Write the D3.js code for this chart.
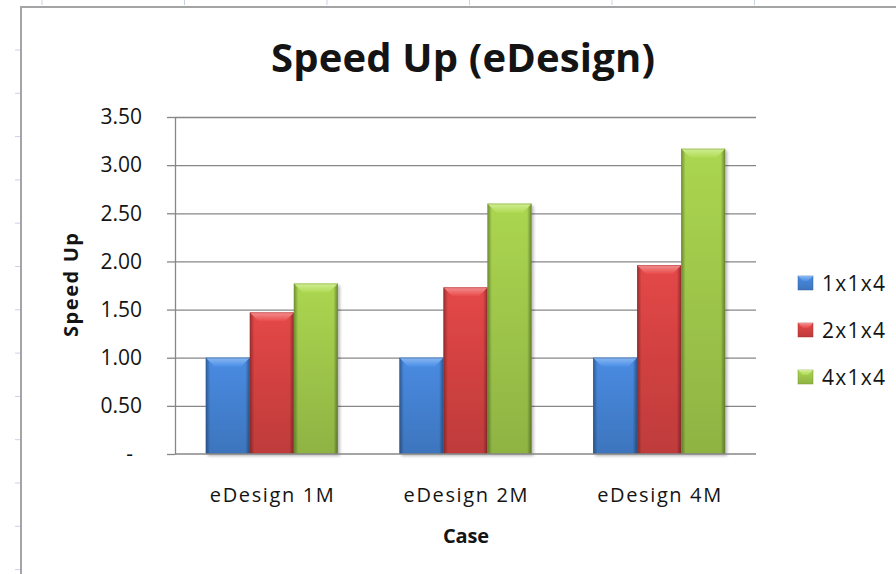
<!DOCTYPE html>
<html>
<head>
<meta charset="utf-8">
<script src="https://cdn.jsdelivr.net/npm/d3@7"></script>
<style>
  html, body { margin: 0; padding: 0; background: #ffffff; }
  svg { display: block; }
  text { font-family: "Open Sans", "DejaVu Sans", sans-serif; fill: #141414; }
</style>
</head>
<body>
<svg id="chart" width="896" height="574"></svg>
<script>
// ---- data ----
const categories = ["eDesign 1M", "eDesign 2M", "eDesign 4M"];
const seriesNames = ["1x1x4", "2x1x4", "4x1x4"];
const speedup1x1x4 = [1.00, 1.00, 1.00];
const speedup2x1x4 = [1.47, 1.73, 1.96];
const speedup4x1x4 = [1.77, 2.60, 3.17];
const yTicks = [0, 0.5, 1.0, 1.5, 2.0, 2.5, 3.0, 3.5];

const seriesValues = [speedup1x1x4, speedup2x1x4, speedup4x1x4];

// Office-style bevelled fills: face, highlight, shade
const palette = [
  { face: "#4584d6", light: "#8ab8f2", dark: "#2d5c9e" },
  { face: "#d84343", light: "#f49090", dark: "#a12d2d" },
  { face: "#a2cb4c", light: "#d2ee96", dark: "#75982f" }
];

// ---- layout ----
const W = 896, H = 574;
const plot = { left: 175, right: 756, top: 117, bottom: 454 };
const axisColor = "#878787";

const svg = d3.select("#chart");
const defs = svg.append("defs");

// soft shadow under the bars
const shadow = defs.append("filter").attr("id", "barShadow")
  .attr("x", "-20%").attr("y", "-10%").attr("width", "150%").attr("height", "130%");
shadow.append("feDropShadow").attr("dx", 2).attr("dy", 2).attr("stdDeviation", 1.8)
  .attr("flood-color", "#000").attr("flood-opacity", 0.28);

palette.forEach((c, i) => {
  const face = defs.append("linearGradient").attr("id", "face" + i)
    .attr("x1", 0).attr("y1", 0).attr("x2", 0).attr("y2", 1);
  face.append("stop").attr("offset", "0%").attr("stop-color", d3.color(c.face).brighter(0.15));
  face.append("stop").attr("offset", "100%").attr("stop-color", d3.color(c.face).darker(0.35));

  const top = defs.append("linearGradient").attr("id", "top" + i)
    .attr("x1", 0).attr("y1", 0).attr("x2", 0).attr("y2", 1);
  top.append("stop").attr("offset", "0%").attr("stop-color", c.light);
  top.append("stop").attr("offset", "100%").attr("stop-color", d3.color(c.face).brighter(0.2));
});

const sides = defs.append("linearGradient").attr("id", "sides")
  .attr("x1", 0).attr("y1", 0).attr("x2", 1).attr("y2", 0);
[[0, 0.34], [0.1, 0.0], [0.9, 0.0], [1, 0.38]].forEach(([o, a]) =>
  sides.append("stop").attr("offset", o).attr("stop-color", "#000").attr("stop-opacity", a));

// ---- sheet background and chart frame ----
const sheet = svg.append("g");
d3.range(50, H, 43.3).forEach(y =>
  sheet.append("line").attr("x1", 15).attr("x2", 20).attr("y1", y).attr("y2", y)
    .attr("stroke", "#c9d3e6").attr("stroke-width", 1));
d3.range(42, W, 142.5).forEach(x =>
  sheet.append("line").attr("x1", x).attr("x2", x).attr("y1", 0).attr("y2", 5)
    .attr("stroke", "#c9d3e6").attr("stroke-width", 1));
svg.append("rect").attr("x", 21).attr("y", 7).attr("width", W).attr("height", H)
  .attr("fill", "#fff");
svg.append("path").attr("d", `M21,${H} V7 H${W}`)
  .attr("fill", "none").attr("stroke", "#a4a4a4").attr("stroke-width", 2);

// ---- scales ----
const y = d3.scaleLinear().domain([0, 3.5]).range([plot.bottom, plot.top]);
const x0 = d3.scaleBand().domain(categories).range([plot.left, plot.right])
  .paddingInner(0.318).paddingOuter(0.159);
const x1 = d3.scaleBand().domain(seriesNames).range([0, x0.bandwidth()]).padding(0);

// ---- gridlines ----
const grid = svg.append("g").attr("transform", `translate(${plot.left},0)`)
  .call(d3.axisLeft(y).tickValues(yTicks.filter(d => d > 0))
    .tickSize(-(plot.right - plot.left)).tickFormat(""));
grid.select(".domain").remove();
grid.selectAll("line").attr("stroke", axisColor).attr("stroke-width", 1.3);

// ---- y axis ----
const yAxis = svg.append("g").attr("transform", `translate(${plot.left},0)`)
  .call(d3.axisLeft(y).tickValues(yTicks).tickSize(8).tickSizeOuter(0).tickPadding(25)
    .tickFormat(d => d === 0 ? "-" : d3.format(".2f")(d)));
yAxis.select(".domain").attr("stroke", axisColor).attr("stroke-width", 1.3);
yAxis.selectAll(".tick line").attr("stroke", axisColor).attr("stroke-width", 1.3);
yAxis.selectAll(".tick text")
  .style("font-family", '"Open Sans", sans-serif').style("font-size", "21px")
  .attr("fill", "#141414")
  .attr("dx", d => d === 0 ? -9 : 0);

// ---- bars ----
const groups = svg.append("g").selectAll("g").data(categories).join("g")
  .attr("transform", c => `translate(${x0(c)},0)`);

groups.each(function (c, ci) {
  const g = d3.select(this);
  seriesNames.forEach((s, si) => {
    const v = seriesValues[si][ci];
    const bx = x1(s), bw = x1.bandwidth();
    const by = y(v), bh = y(0) - y(v);
    const b = Math.min(9, bh / 2);
    const bar = g.append("g");
    bar.append("rect").attr("x", bx).attr("y", by).attr("width", bw).attr("height", bh)
      .attr("fill", `url(#face${si})`).attr("filter", "url(#barShadow)");
    bar.append("rect").attr("x", bx).attr("y", by).attr("width", bw).attr("height", bh)
      .attr("fill", "url(#sides)");
    bar.append("polygon")
      .attr("points", [[bx, by], [bx + bw, by], [bx + bw - b, by + b], [bx + b, by + b]].join(" "))
      .attr("fill", `url(#top${si})`);
    bar.append("rect").attr("x", bx + 0.4).attr("y", by + 0.4)
      .attr("width", bw - 0.8).attr("height", bh - 0.8)
      .attr("fill", "none").attr("stroke", palette[si].dark).attr("stroke-opacity", 0.55)
      .attr("stroke-width", 0.8);
  });
});

// ---- x axis ----
svg.append("line").attr("x1", plot.left).attr("x2", plot.right)
  .attr("y1", plot.bottom).attr("y2", plot.bottom)
  .attr("stroke", axisColor).attr("stroke-width", 1.3);
const xAxis = svg.append("g").attr("transform", `translate(0,${plot.bottom})`)
  .call(d3.axisBottom(x0).tickSize(0).tickPadding(34));
xAxis.select(".domain").remove();
xAxis.selectAll(".tick text")
  .style("font-family", '"Open Sans", sans-serif').style("font-size", "20px")
  .attr("fill", "#141414")
  .attr("textLength", 124).attr("lengthAdjust", "spacing");

// ---- titles ----
svg.append("text").attr("x", 463).attr("y", 72).attr("text-anchor", "middle")
  .style("font-size", "40px").style("font-weight", "700")
  .attr("textLength", 384).attr("lengthAdjust", "spacing")
  .text("Speed Up (eDesign)");

svg.append("text").attr("transform", "translate(78,285) rotate(-90)")
  .attr("text-anchor", "middle")
  .style("font-size", "20px").style("font-weight", "700")
  .attr("textLength", 104).attr("lengthAdjust", "spacing")
  .text("Speed Up");

svg.append("text").attr("x", 466).attr("y", 543).attr("text-anchor", "middle")
  .style("font-size", "20px").style("font-weight", "700")
  .attr("textLength", 46).attr("lengthAdjust", "spacing")
  .text("Case");

// ---- legend ----
const legend = svg.append("g").selectAll("g").data(seriesNames).join("g")
  .attr("transform", (d, i) => `translate(798,${283 + i * 47})`);
legend.append("rect").attr("x", 0).attr("y", -7).attr("width", 15).attr("height", 14)
  .attr("fill", (d, i) => `url(#face${i})`)
  .attr("stroke", (d, i) => palette[i].dark).attr("stroke-opacity", 0.6).attr("stroke-width", 0.8);
legend.append("polygon")
  .attr("points", [[0, -7], [15, -7], [10, -2], [5, -2]].join(" "))
  .attr("fill", (d, i) => `url(#top${i})`);
legend.append("text").attr("x", 24).attr("y", 7.5)
  .style("font-size", "21px")
  .attr("textLength", 63).attr("lengthAdjust", "spacing")
  .text(d => d);
</script>
</body>
</html>
